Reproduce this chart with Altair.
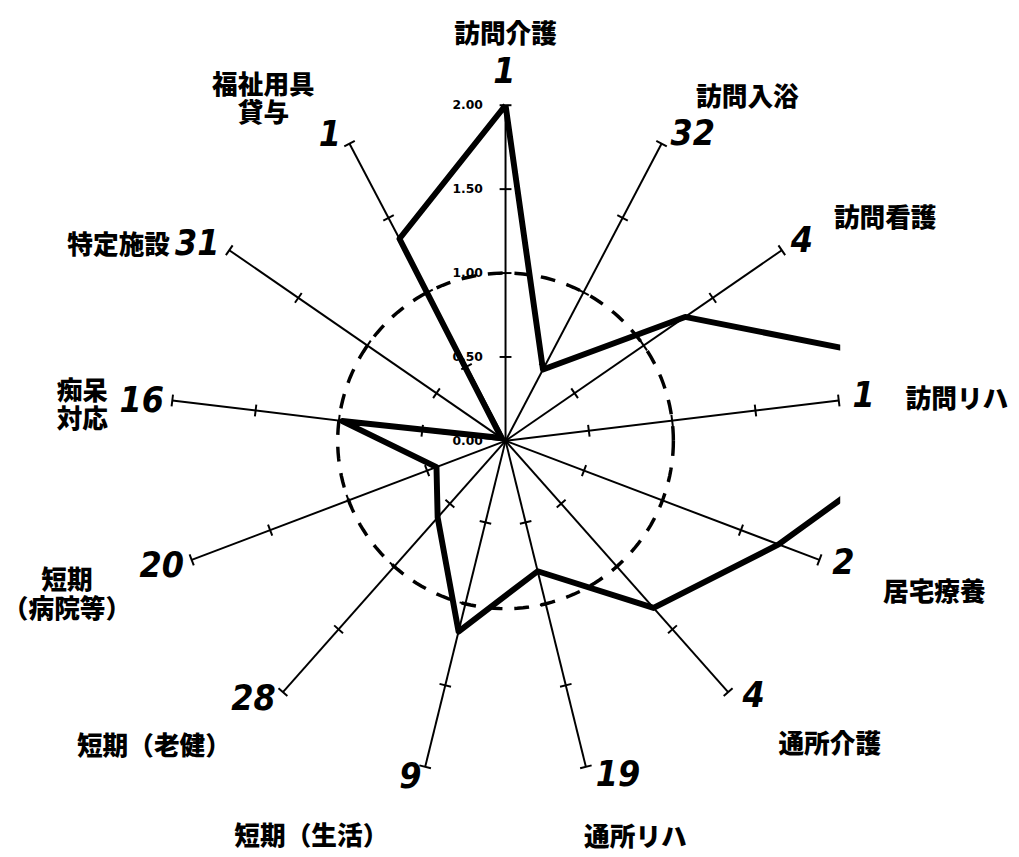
import math
import altair as alt
import pandas as pd

# ---------------- data ----------------
CATEGORIES = ["訪問介護", "訪問入浴", "訪問看護", "訪問リハ", "居宅療養", "通所介護",
              "通所リハ", "短期（生活）", "短期（老健）", "短期\n（病院等）", "痴呆\n対応",
              "特定施設", "福祉用具\n貸与"]
VALUES = [2.00, 0.48, 1.30, 3.00, 1.74, 1.33, 0.80, 1.17, 0.61, 0.44, 0.98, 0.03, 1.36]
RANKS = ["1", "32", "4", "1", "2", "4", "19", "9", "28", "20", "16", "31", "1"]
TICK_VALUES = [0.0, 0.5, 1.0, 1.5, 2.0]
TICK_LABELS = ["0.00", "0.50", "1.00", "1.50", "2.00"]
AXIS_MAX = 2.0
RING = 1.0

# ---------------- label layout (polar, in data units / degrees) ----------------
LABEL_R = [2.42, 2.50, 2.62, 2.70, 2.71, 2.65, 2.49, 2.63, 2.78, 2.77, 2.53, 2.58, 2.49]
LABEL_DEG = [0.0, 35.2, 59.7, 84.9, 109.5, 133.2, 161.9, 206.1, 228.9, 250.6, 274.7, 296.7, 324.6]
NUM_R = [2.20, 2.14, 2.13, 2.15, 2.14, 2.12, 2.10, 2.08, 2.15, 2.18, 2.18, 2.18, 2.10]
NUM_DEG = [-0.2, 31.4, 56.0, 82.9, 109.9, 135.8, 161.4, 195.8, 224.3, 250.0, 276.2, 302.6, 330.1]

N = len(CATEGORIES)
STEP = 360.0 / N

XDOM = [-2.929, 1.994]
YDOM = [-2.406, 2.541]
xs = alt.Scale(domain=XDOM, nice=False, zero=False)
ys = alt.Scale(domain=YDOM, nice=False, zero=False)

CJK = "Noto Sans CJK JP"
LH = 29

# ---------------- tables ----------------
axes_df = pd.DataFrame({"i": list(range(N)), "rmax": [AXIS_MAX] * N})
ticks_df = pd.DataFrame(
    [{"i": i, "r": r} for i in range(N) for r in TICK_VALUES if r > 0]
)
line_df = pd.DataFrame({
    "i": list(range(N)) + [0],
    "v": VALUES + [VALUES[0]],
    "ord": list(range(N + 1)),
})
rank_df = pd.DataFrame({"t": RANKS, "r": NUM_R, "deg": NUM_DEG})
lab_df = pd.DataFrame({"t": CATEGORIES, "r": LABEL_R, "deg": LABEL_DEG})
tl_df = pd.DataFrame({"v": TICK_VALUES, "t": TICK_LABELS})

ANG = f"datum.i * {STEP} * PI / 180"
H = 6 / 170  # half tick length

axes = alt.Chart(axes_df).transform_calculate(
    a=ANG
).transform_calculate(
    x0="0", y0="0",
    x1="datum.rmax * sin(datum.a)", y1="datum.rmax * cos(datum.a)"
).mark_rule(color="black", strokeWidth=2).encode(
    x=alt.X("x0:Q", scale=xs, axis=None),
    y=alt.Y("y0:Q", scale=ys, axis=None),
    x2="x1:Q", y2="y1:Q",
)

ticks = alt.Chart(ticks_df).transform_calculate(
    a=ANG
).transform_calculate(
    xa=f"datum.r * sin(datum.a) - {H} * cos(datum.a)",
    ya=f"datum.r * cos(datum.a) + {H} * sin(datum.a)",
    xb=f"datum.r * sin(datum.a) + {H} * cos(datum.a)",
    yb=f"datum.r * cos(datum.a) - {H} * sin(datum.a)",
).mark_rule(color="black", strokeWidth=2).encode(
    x=alt.X("xa:Q", scale=xs, axis=None),
    y=alt.Y("ya:Q", scale=ys, axis=None),
    x2="xb:Q", y2="yb:Q",
)

ring = alt.Chart(alt.sequence(0, 362, 2, as_="deg")).transform_calculate(
    x=f"{RING} * cos(datum.deg * PI / 180)",
    y=f"{RING} * sin(datum.deg * PI / 180)",
).mark_line(color="black", strokeWidth=3.5, strokeDash=[15, 12]).encode(
    x=alt.X("x:Q", scale=xs, axis=None),
    y=alt.Y("y:Q", scale=ys, axis=None),
    order="deg:Q",
)

dline = alt.Chart(line_df).transform_calculate(
    a=ANG
).transform_calculate(
    x="datum.v * sin(datum.a)", y="datum.v * cos(datum.a)"
).mark_line(color="black", strokeWidth=6, clip=True, strokeJoin="round").encode(
    x=alt.X("x:Q", scale=xs, axis=None),
    y=alt.Y("y:Q", scale=ys, axis=None),
    order="ord:Q",
)

tick_labels = alt.Chart(tl_df).transform_calculate(
    x="0"
).mark_text(align="right", baseline="middle", dx=-23, fontSize=12.5,
            fontWeight="bold", font="DejaVu Sans", color="black").encode(
    x=alt.X("x:Q", scale=xs, axis=None),
    y=alt.Y("v:Q", scale=ys, axis=None),
    text="t:N",
)

ranks = alt.Chart(rank_df).transform_calculate(
    x="datum.r * sin(datum.deg * PI / 180)",
    y="datum.r * cos(datum.deg * PI / 180)",
).mark_text(align="center", baseline="middle", fontSize=36, fontWeight="bold",
            fontStyle="italic", font="DejaVu Sans Condensed", color="black").encode(
    x=alt.X("x:Q", scale=xs, axis=None),
    y=alt.Y("y:Q", scale=ys, axis=None),
    text="t:N",
)

lab_base = alt.Chart(lab_df).transform_calculate(
    x="datum.r * sin(datum.deg * PI / 180)",
    y="datum.r * cos(datum.deg * PI / 180)",
    multi="indexof(datum.t, '\\n') >= 0 ? 1 : 0",
    l1="split(datum.t, '\\n')[0]",
    l2="split(datum.t, '\\n')[1]",
)
xy = dict(
    x=alt.X("x:Q", scale=xs, axis=None),
    y=alt.Y("y:Q", scale=ys, axis=None),
)
txt = dict(align="center", baseline="middle", fontSize=26, fontWeight=900,
           font=CJK, color="black")
labels_single = lab_base.transform_filter("datum.multi == 0").mark_text(
    **txt).encode(text="t:N", **xy)
labels_top = lab_base.transform_filter("datum.multi == 1").mark_text(
    dy=-LH / 2, **txt).encode(text="l1:N", **xy)
labels_bot = lab_base.transform_filter("datum.multi == 1").mark_text(
    dy=LH / 2, **txt).encode(text="l2:N", **xy)

chart = alt.layer(axes, ticks, ring, dline, tick_labels, ranks,
                  labels_single, labels_top, labels_bot).properties(
    width=837, height=841,
    autosize=alt.AutoSizeParams(type="none"),
    padding={"left": 6, "top": 1, "right": 173, "bottom": 8},
    background="white",
).configure_view(stroke=None)

chart.save("out.html", embed_options={"renderer": "svg", "actions": False})
